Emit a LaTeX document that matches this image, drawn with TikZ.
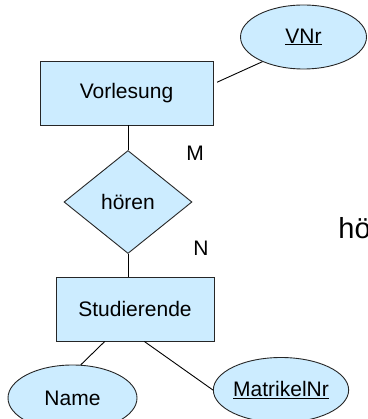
\documentclass[tikz,border=0pt]{standalone}
\usepackage{fontspec}
\setmainfont{Liberation Sans}
\usetikzlibrary{shapes.geometric}
\definecolor{erblue}{RGB}{204,236,255}

\begin{document}
\begin{tikzpicture}[x=1pt,y=-1pt,line width=0.9pt,
		every node/.style={font=\fontsize{21}{25}\selectfont},
		entity/.style={draw=black!85,fill=erblue,rectangle,inner sep=0pt,minimum height=64pt},
		relation/.style={draw=black!85,fill=erblue,diamond,inner sep=0pt,minimum width=128pt,minimum height=103pt},
		attribute/.style={draw=black!85,fill=erblue,ellipse,inner sep=0pt,minimum width=128pt,minimum height=65pt}]
				\useasboundingbox (0,0) rectangle (367,419);
				\node[entity,minimum width=173pt] (vorlesung) at (126.5,93) {Vorlesung};
				\node[attribute,minimum width=126pt,minimum height=64pt] (vnr) at (303.5,37) {\underline{VNr}};
				\node[relation] (hoeren) at (128,202) {hören};
				\node[entity,minimum width=158pt] (studierende) at (135,309) {Studierende};
				\node[attribute,minimum width=129pt,minimum height=66pt] (name) at (72.5,398) {Name};
				\node[attribute] (matrikelnr) at (281,390) {\underline{MatrikelNr}};
				\node (m) at (195,153) {M};
				\node (n) at (201,248) {N};
				\node[anchor=base west,inner sep=0pt,font=\fontsize{29}{34}\selectfont] (hoe) at (338,238) {hö};
				\draw[shorten <=4pt] (vorlesung.6) -- (vnr.211);
				\draw (vorlesung.south -| hoeren.north) -- (hoeren.north);
				\draw (hoeren.south) -- (hoeren.south |- studierende.north);
				\draw (studierende.227) -- (name.76);
				\draw (studierende.286) -- (matrikelnr.west);
			\end{tikzpicture}
\end{document}
